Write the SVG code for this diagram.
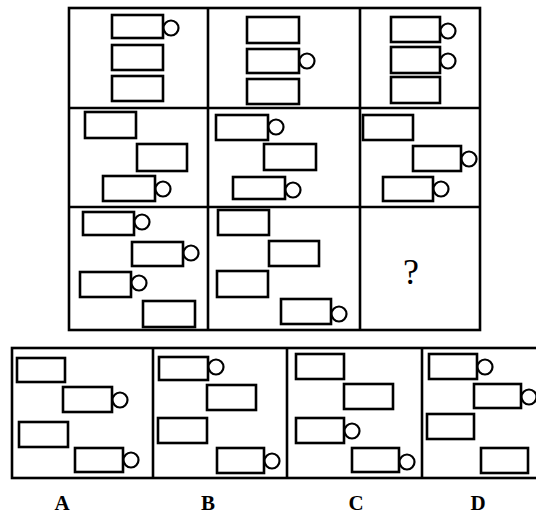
<svg xmlns="http://www.w3.org/2000/svg" width="536" height="520" viewBox="0 0 536 520">
<style>
.b{fill:none;stroke:#000;stroke-width:2.6}
.r{fill:#fff;stroke:#000;stroke-width:2.6}
.c{fill:#fff;stroke:#000;stroke-width:2.2}
.lbl{font-family:"Liberation Serif",serif;font-weight:bold;font-size:21px;text-anchor:middle;fill:#000}
.q{font-family:"Liberation Serif",serif;font-size:36px;text-anchor:middle;fill:#000}
</style>
<rect width="536" height="520" fill="#fff"/>
<g id="grid">
<rect class="b" x="69" y="8" width="411" height="322"/>
<line class="b" x1="208" y1="8" x2="208" y2="330"/>
<line class="b" x1="360" y1="8" x2="360" y2="330"/>
<line class="b" x1="69" y1="108" x2="480" y2="108"/>
<line class="b" x1="69" y1="207" x2="480" y2="207"/>
</g>
<g id="cell11">
<rect class="r" x="112" y="15" width="51" height="23"/><circle class="c" cx="171" cy="28" r="7.5"/>
<rect class="r" x="112" y="45" width="51" height="25"/>
<rect class="r" x="112" y="76" width="51" height="25"/>
</g>
<g id="cell12">
<rect class="r" x="247" y="17" width="52" height="26"/>
<rect class="r" x="247" y="49" width="52" height="24"/><circle class="c" cx="307" cy="61" r="7.5"/>
<rect class="r" x="247" y="79" width="52" height="25"/>
</g>
<g id="cell13">
<rect class="r" x="391" y="17" width="49" height="25"/><circle class="c" cx="448" cy="31" r="7.5"/>
<rect class="r" x="391" y="47" width="49" height="26"/><circle class="c" cx="448" cy="61" r="7.5"/>
<rect class="r" x="391" y="77" width="49" height="26"/>
</g>
<g id="cell21">
<rect class="r" x="85" y="112" width="51" height="26"/>
<rect class="r" x="137" y="144" width="50" height="27"/>
<rect class="r" x="103" y="176" width="52" height="25"/><circle class="c" cx="163" cy="189" r="7.5"/>
</g>
<g id="cell22">
<rect class="r" x="216" y="115" width="52" height="25"/><circle class="c" cx="276" cy="127" r="7.5"/>
<rect class="r" x="264" y="144" width="52" height="26"/>
<rect class="r" x="233" y="177" width="52" height="22"/><circle class="c" cx="293" cy="190" r="7.5"/>
</g>
<g id="cell23">
<rect class="r" x="363" y="115" width="50" height="25"/>
<rect class="r" x="413" y="146" width="48" height="25"/><circle class="c" cx="469" cy="159" r="7.5"/>
<rect class="r" x="383" y="177" width="50" height="24"/><circle class="c" cx="441" cy="189" r="7.5"/>
</g>
<g id="cell31">
<rect class="r" x="83" y="212" width="51" height="23"/><circle class="c" cx="142" cy="222" r="7.5"/>
<rect class="r" x="132" y="242" width="51" height="24"/><circle class="c" cx="191" cy="253" r="7.5"/>
<rect class="r" x="80" y="272" width="51" height="25"/><circle class="c" cx="139" cy="283" r="7.5"/>
<rect class="r" x="143" y="301" width="52" height="26"/>
</g>
<g id="cell32">
<rect class="r" x="218" y="210" width="51" height="25"/>
<rect class="r" x="269" y="241" width="50" height="25"/>
<rect class="r" x="217" y="271" width="51" height="26"/>
<rect class="r" x="281" y="299" width="50" height="25"/><circle class="c" cx="339" cy="314" r="7.5"/>
</g>
<g id="cell33">
<text class="q" x="411" y="284">?</text>
</g>
<g id="options">
<rect class="b" x="12" y="348" width="530" height="130"/>
<line class="b" x1="153" y1="348" x2="153" y2="478"/>
<line class="b" x1="287" y1="348" x2="287" y2="478"/>
<line class="b" x1="422" y1="348" x2="422" y2="478"/>
</g>
<g id="optA">
<rect class="r" x="17" y="358" width="48" height="24"/>
<rect class="r" x="63" y="387" width="49" height="25"/><circle class="c" cx="120" cy="400" r="7.5"/>
<rect class="r" x="19" y="422" width="49" height="25"/>
<rect class="r" x="75" y="448" width="48" height="24"/><circle class="c" cx="131" cy="460" r="7.5"/>
<text class="lbl" x="62" y="510">A</text>
</g>
<g id="optB">
<rect class="r" x="159" y="357" width="49" height="23"/><circle class="c" cx="216" cy="367" r="7.5"/>
<rect class="r" x="207" y="385" width="49" height="25"/>
<rect class="r" x="158" y="418" width="49" height="25"/>
<rect class="r" x="217" y="448" width="47" height="25"/><circle class="c" cx="272" cy="461" r="7.5"/>
<text class="lbl" x="208" y="510">B</text>
</g>
<g id="optC">
<rect class="r" x="296" y="354" width="48" height="25"/>
<rect class="r" x="344" y="384" width="49" height="25"/>
<rect class="r" x="296" y="418" width="48" height="25"/><circle class="c" cx="352" cy="431" r="7.5"/>
<rect class="r" x="352" y="448" width="47" height="24"/><circle class="c" cx="407" cy="462" r="7.5"/>
<text class="lbl" x="356" y="510">C</text>
</g>
<g id="optD">
<rect class="r" x="429" y="354" width="48" height="25"/><circle class="c" cx="485" cy="367" r="7.5"/>
<rect class="r" x="474" y="384" width="47" height="24"/><circle class="c" cx="529" cy="397" r="7.5"/>
<rect class="r" x="427" y="414" width="47" height="25"/>
<rect class="r" x="481" y="448" width="47" height="25"/>
<text class="lbl" x="478" y="510">D</text>
</g>
</svg>
